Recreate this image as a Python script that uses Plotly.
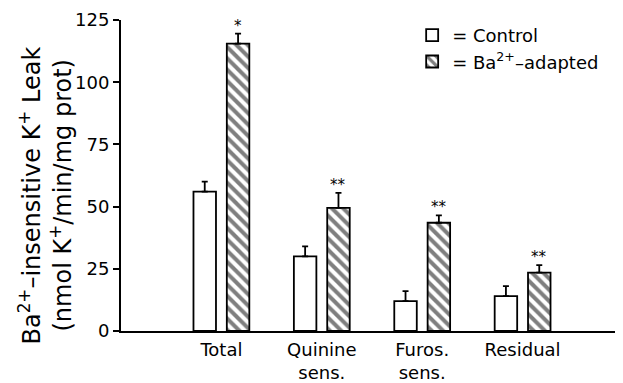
import plotly.graph_objects as go

categories = ["Total", "Quinine<br>sens.", "Furos.<br>sens.", "Residual"]
control = [56, 30, 12, 14]
control_err = [4, 4, 4, 4]
adapted = [115.5, 49.5, 43.5, 23.5]
adapted_err = [4, 6, 3, 3]
stars = ["*", "**", "**", "**"]
y_ticks = [0, 25, 50, 75, 100, 125]
title_lines = ["Ba<sup>2+</sup>–insensitive K<sup>+</sup> Leak",
               "(nmol K<sup>+</sup>/min/mg prot)"]

FONT = "DejaVu Sans, Verdana, sans-serif"
BARGAP = 0.336
BARGROUPGAP = 0.325

fig = go.Figure()
fig.add_trace(go.Bar(
    x=categories, y=control, name="= Control",
    marker=dict(color="white", line=dict(color="black", width=1.8)),
    error_y=dict(type="data", symmetric=False, array=control_err,
                 arrayminus=[0] * len(control), color="black", thickness=1.8, width=3),
))
fig.add_trace(go.Bar(
    x=categories, y=adapted, name="= Ba<sup>2+</sup>–adapted",
    marker=dict(color="white", line=dict(color="black", width=1.8),
                pattern=dict(shape="\\", fgcolor="black", bgcolor="white",
                             size=8, solidity=0.5)),
    error_y=dict(type="data", symmetric=False, array=adapted_err,
                 arrayminus=[0] * len(adapted), color="black", thickness=1.8, width=3),
))

offset = (1 - BARGAP) / 4
for i, (v, e, s) in enumerate(zip(adapted, adapted_err, stars)):
    fig.add_annotation(x=i + offset, y=v + e, text=s, showarrow=False,
                       yanchor="bottom", yshift=-3,
                       font=dict(family=FONT, size=15, color="black"))

for shift, line in zip([-92, -61], title_lines):
    fig.add_annotation(xref="paper", yref="paper", x=0, y=0.5, text=line,
                       textangle=-90, showarrow=False, xanchor="center",
                       yanchor="middle", xshift=shift, yshift=-20,
                       font=dict(family=FONT, size=24, color="black"))

# the page body has an 8px default margin, so the figure is 8px smaller
fig.update_layout(
    width=615, height=375,
    margin=dict(l=113, r=0, t=12, b=52),
    paper_bgcolor="white", plot_bgcolor="white",
    barmode="group", bargap=BARGAP, bargroupgap=BARGROUPGAP,
    font=dict(family=FONT, size=18, color="black"),
    legend=dict(x=0.58, y=1.01, xanchor="left", yanchor="top",
                bgcolor="rgba(0,0,0,0)", font=dict(size=18),
                tracegroupgap=0),
    showlegend=True,
)
fig.update_xaxes(range=[-1, 4], showline=True, linecolor="black", linewidth=2,
                 ticks="", showgrid=False, zeroline=False,
                 tickfont=dict(size=18), automargin=False, ticklabelstandoff=1)
fig.update_yaxes(range=[0, 125], tickvals=y_ticks, showline=True, linecolor="black",
                 linewidth=2, ticks="outside", ticklen=6, tickwidth=2,
                 tickcolor="black", showgrid=False, zeroline=False,
                 tickfont=dict(size=18), automargin=False)

fig.write_html("out.html")
